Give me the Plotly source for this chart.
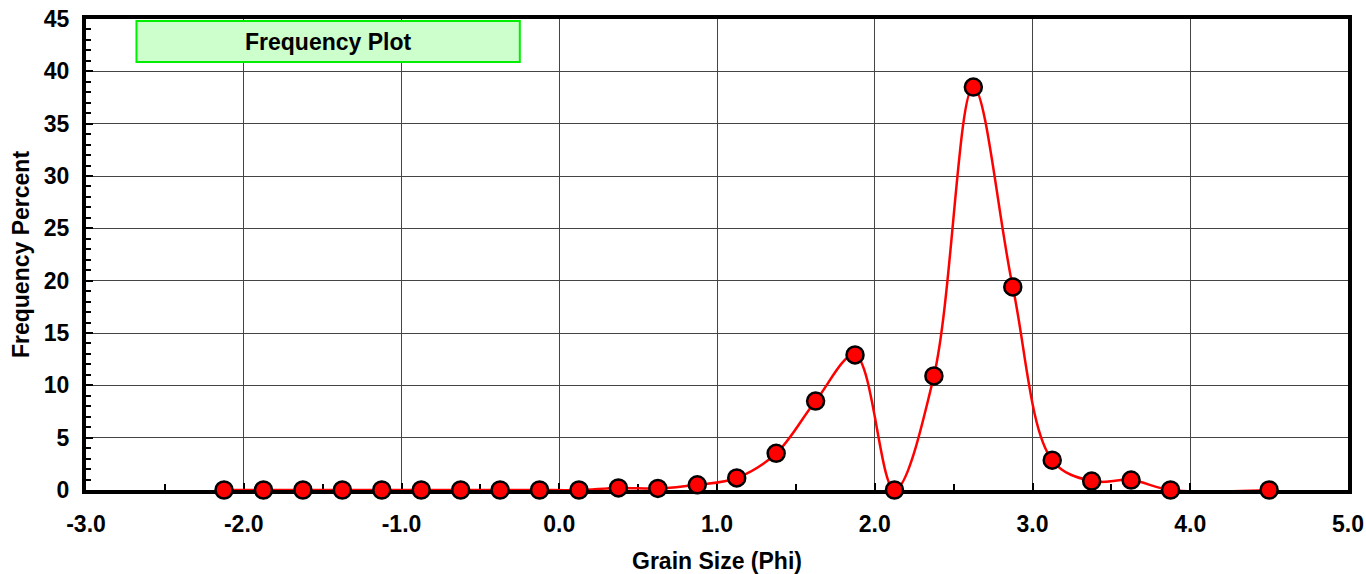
import plotly.graph_objects as go

phi = [-2.125, -1.875, -1.625, -1.375, -1.125, -0.875, -0.625, -0.375, -0.125, 0.125,
       0.375, 0.625, 0.875, 1.125, 1.375, 1.625, 1.875, 2.125, 2.375, 2.625,
       2.875, 3.125, 3.375, 3.625, 3.875, 4.5]
freq = [0, 0, 0, 0, 0, 0, 0, 0, 0, 0,
        0.2, 0.15, 0.5, 1.15, 3.5, 8.5, 12.9, 0, 10.9, 38.5,
        19.4, 2.85, 0.85, 0.95, 0, 0]

x_tick_vals = [-3, -2, -1, 0, 1, 2, 3, 4, 5]
x_tick_text = ["-3.0", "-2.0", "-1.0", "0.0", "1.0", "2.0", "3.0", "4.0", "5.0"]

chart_title = "Frequency Plot"
x_title = "Grain Size (Phi)"
y_title = "Frequency Percent"

FONT = "Liberation Sans, Arial, sans-serif"
TICKFONT = dict(family=FONT, size=23, color="black", weight="bold")
TITLEFONT = dict(family=FONT, size=23, color="black", weight="bold")

fig = go.Figure()
fig.add_trace(go.Scatter(
    x=phi, y=freq, mode="lines+markers",
    line=dict(color="#ff0000", width=2.5, shape="spline", smoothing=1.0),
    marker=dict(size=17, color="#ff0000", line=dict(color="black", width=2.5)),
    cliponaxis=False, showlegend=False,
))

axis_common = dict(
    showline=True, linecolor="black", linewidth=4, mirror=True,
    showgrid=True, gridcolor="#444444", gridwidth=1,
    ticks="inside", ticklen=7, tickwidth=2, tickcolor="black",
    tickfont=TICKFONT,
    zeroline=False, automargin=False, layer="below traces",
)

fig.update_xaxes(
    range=[-3, 5], tickvals=x_tick_vals, ticktext=x_tick_text,
    ticklabelstandoff=10,
    title=dict(text=x_title, font=TITLEFONT, standoff=18),
    minor=dict(ticks="inside", tickvals=[-2.5, -1.5, -0.5, 0.5, 1.5, 2.5, 3.5, 4.5],
               ticklen=6, tickwidth=2, tickcolor="black", showgrid=False),
    **axis_common,
)
fig.update_yaxes(
    range=[0, 45], dtick=5,
    ticklabelstandoff=8,
    title=dict(text=y_title, font=TITLEFONT, standoff=9),
    minor=dict(ticks="inside", dtick=1, ticklen=5, tickwidth=2, tickcolor="black", showgrid=False),
    **axis_common,
)

fig.add_shape(type="rect", xref="x", yref="y", x0=-2.68, x1=-0.25, y0=40.9, y1=44.8,
              fillcolor="#ccffcc", line=dict(color="#00ee00", width=2), layer="above")
fig.add_annotation(xref="x", yref="y", x=-1.465, y=42.85, text=chart_title, showarrow=False,
                   font=dict(family=FONT, size=23, color="black", weight="bold"))

fig.update_layout(
    width=1366, height=574,
    margin=dict(l=86, r=18, t=19, b=84),
    plot_bgcolor="white", paper_bgcolor="white",
)

fig.write_html("out.html", config={"displayModeBar": False},
               post_script="document.body.style.margin='0';document.body.style.overflow='hidden';")
